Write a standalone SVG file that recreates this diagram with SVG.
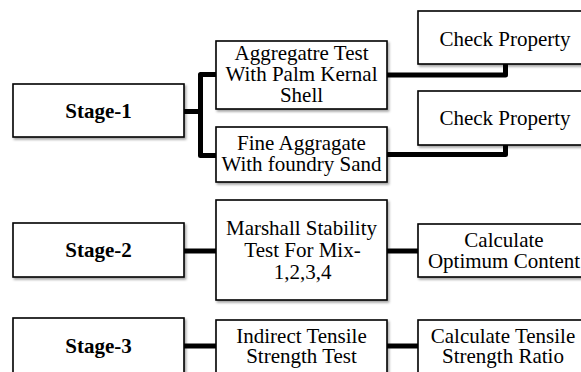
<svg xmlns="http://www.w3.org/2000/svg" width="581" height="372" viewBox="0 0 581 372">
<defs>
<filter id="sh" x="-10%" y="-10%" width="130%" height="140%">
<feDropShadow dx="1.5" dy="2" stdDeviation="1.2" flood-color="#000" flood-opacity="0.35"/>
</filter>
</defs>
<style>
.box{fill:#fff;stroke:#000;stroke-width:1.6;filter:url(#sh)}
.t{font-family:"Liberation Serif","Times New Roman",serif;font-size:21px;fill:#000;text-anchor:middle}
.b{font-weight:bold}
.c{fill:none;stroke:#000;stroke-width:5;stroke-linejoin:round;stroke-linecap:butt}
</style>
<rect width="581" height="372" fill="#fff"/>
<g id="connectors">
<path class="c" d="M184,111.5 H200.5"/>
<path class="c" d="M216,74.5 H200.5 V155.5 H216"/>
<path class="c" d="M387,75 H505.5 V64"/>
<path class="c" d="M387,154.5 H505.5 V145"/>
<path class="c" d="M184,251 H216"/>
<path class="c" d="M387,251 H418"/>
<path class="c" d="M184,346 H216"/>
<path class="c" d="M387,346 H418"/>
</g>
<g id="stage1"><rect class="box" x="13" y="84" width="171" height="53"/><text class="t b" x="98.5" y="118">Stage-1</text></g>
<g id="stage2"><rect class="box" x="13" y="223" width="171" height="54"/><text class="t b" x="98.5" y="257">Stage-2</text></g>
<g id="stage3"><rect class="box" x="13" y="318" width="171" height="70"/><text class="t b" x="98.5" y="353">Stage-3</text></g>
<g id="aggregate"><rect class="box" x="216" y="41" width="171" height="68"/>
<text class="t" x="301.5" y="60">Aggregatre Test</text>
<text class="t" x="301.5" y="81">With Palm Kernal</text>
<text class="t" x="301.5" y="102">Shell</text></g>
<g id="fine"><rect class="box" x="216" y="127" width="171" height="55"/>
<text class="t" x="301.5" y="150">Fine Aggragate</text>
<text class="t" x="301.5" y="171">With foundry Sand</text></g>
<g id="check1"><rect class="box" x="418" y="11" width="174" height="53"/><text class="t" x="505" y="45.5">Check Property</text></g>
<g id="check2"><rect class="box" x="418" y="91" width="174" height="54"/><text class="t" x="505" y="125">Check Property</text></g>
<g id="marshall"><rect class="box" x="216" y="200" width="171" height="100"/>
<text class="t" x="301.5" y="235">Marshall Stability</text>
<text class="t" x="302.5" y="257">Test For Mix-</text>
<text class="t" x="302.5" y="279">1,2,3,4</text></g>
<g id="optimum"><rect class="box" x="418" y="224" width="174" height="53"/>
<text class="t" x="504" y="246.5">Calculate</text>
<text class="t" x="504" y="268">Optimum Content</text></g>
<g id="indirect"><rect class="box" x="216" y="320" width="171" height="70"/>
<text class="t" x="301.5" y="343">Indirect Tensile</text>
<text class="t" x="301.5" y="363">Strength Test</text></g>
<g id="ratio"><rect class="box" x="418" y="320" width="174" height="70"/>
<text class="t" x="503" y="343">Calculate Tensile</text>
<text class="t" x="503" y="363">Strength Ratio</text></g>
</svg>
